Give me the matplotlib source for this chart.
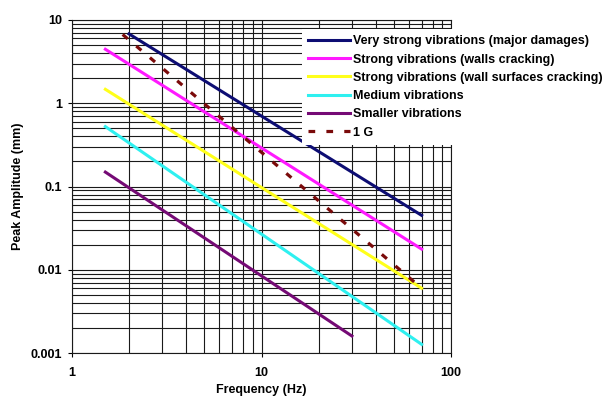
import matplotlib.pyplot as plt
from matplotlib.ticker import LogLocator, NullFormatter, FixedLocator, FixedFormatter

plt.rcParams['font.family'] = ['Liberation Sans', 'DejaVu Sans']

# === Data ===
labels = [
    "Very strong vibrations (major damages)",
    "Strong vibrations (walls cracking)",
    "Strong vibrations (wall surfaces cracking)",
    "Medium vibrations",
    "Smaller vibrations",
    "1 G",
]
freq_very_strong = [2.0, 70]
amp_very_strong = [6.8, 0.045]
freq_strong = [1.5, 70]
amp_strong = [4.45, 0.0177]
freq_surface = [1.5, 70]
amp_surface = [1.47, 0.006]
freq_medium = [1.5, 70]
amp_medium = [0.524, 0.00127]
freq_smaller = [1.5, 30]
amp_smaller = [0.149, 0.0016]
freq_1g = [1.85, 70]
amp_1g = [6.7, 0.006]

x_ticks = [1, 10, 100]
x_tick_labels = ["1", "10", "100"]
y_ticks = [0.001, 0.01, 0.1, 1, 10]
y_tick_labels = ["0.001", "0.01", "0.1", "1", "10"]

# === Plot ===
fig = plt.figure(figsize=(6.13, 4.01), dpi=100)
ax = fig.add_axes([72 / 613, 1 - 353 / 401, (451 - 72) / 613, (353 - 20) / 401])

lw = 2.2
ax.plot(freq_very_strong, amp_very_strong, color="#0d0d73", lw=lw, label=labels[0])
ax.plot(freq_strong, amp_strong, color="#ff19ff", lw=lw, label=labels[1])
ax.plot(freq_surface, amp_surface, color="#ffff1a", lw=lw, label=labels[2])
ax.plot(freq_medium, amp_medium, color="#2ef0f0", lw=lw, label=labels[3])
ax.plot(freq_smaller, amp_smaller, color="#750a75", lw=lw, label=labels[4])
ax.plot(freq_1g, amp_1g, color="#7a0a0a", lw=2.3, dashes=(2.1, 3.5), label=labels[5])

ax.set_xscale("log")
ax.set_yscale("log")
ax.set_xlim(1, 100)
ax.set_ylim(0.001, 10)

ax.xaxis.set_major_locator(FixedLocator(x_ticks))
ax.xaxis.set_major_formatter(FixedFormatter(x_tick_labels))
ax.yaxis.set_major_locator(FixedLocator(y_ticks))
ax.yaxis.set_major_formatter(FixedFormatter(y_tick_labels))
ax.xaxis.set_minor_locator(LogLocator(base=10, subs=range(2, 10)))
ax.yaxis.set_minor_locator(LogLocator(base=10, subs=range(2, 10)))
ax.xaxis.set_minor_formatter(NullFormatter())
ax.yaxis.set_minor_formatter(NullFormatter())

ax.grid(True, which="both", color="#1a1a1a", lw=0.8)
ax.set_axisbelow(True)
ax.tick_params(which="major", length=3, width=0.8, pad=4, labelsize=9)
ax.tick_params(axis="x", which="major", pad=7)
ax.tick_params(which="minor", length=0)
for lab in ax.get_xticklabels() + ax.get_yticklabels():
    lab.set_fontweight("bold")
for s in ax.spines.values():
    s.set_color("#1a1a1a")
    s.set_linewidth(0.8)

ax.set_xlabel("Frequency (Hz)", fontsize=9, fontweight="bold", labelpad=4)
ax.set_ylabel("Peak Amplitude (mm)", fontsize=9, fontweight="bold", labelpad=5)

leg = ax.legend(loc="upper left", bbox_to_anchor=(302 / 613, 1 - 29 / 401),
                bbox_transform=fig.transFigure, fontsize=9, frameon=True,
                fancybox=False, handlelength=3.3, handletextpad=0.25,
                labelspacing=0.5, borderpad=0.5, borderaxespad=0)
leg.get_frame().set_facecolor("white")
leg.get_frame().set_edgecolor("none")
leg.get_frame().set_alpha(1)
for t in leg.get_texts():
    t.set_fontweight("bold")

fig.savefig("out.png", dpi=100)
